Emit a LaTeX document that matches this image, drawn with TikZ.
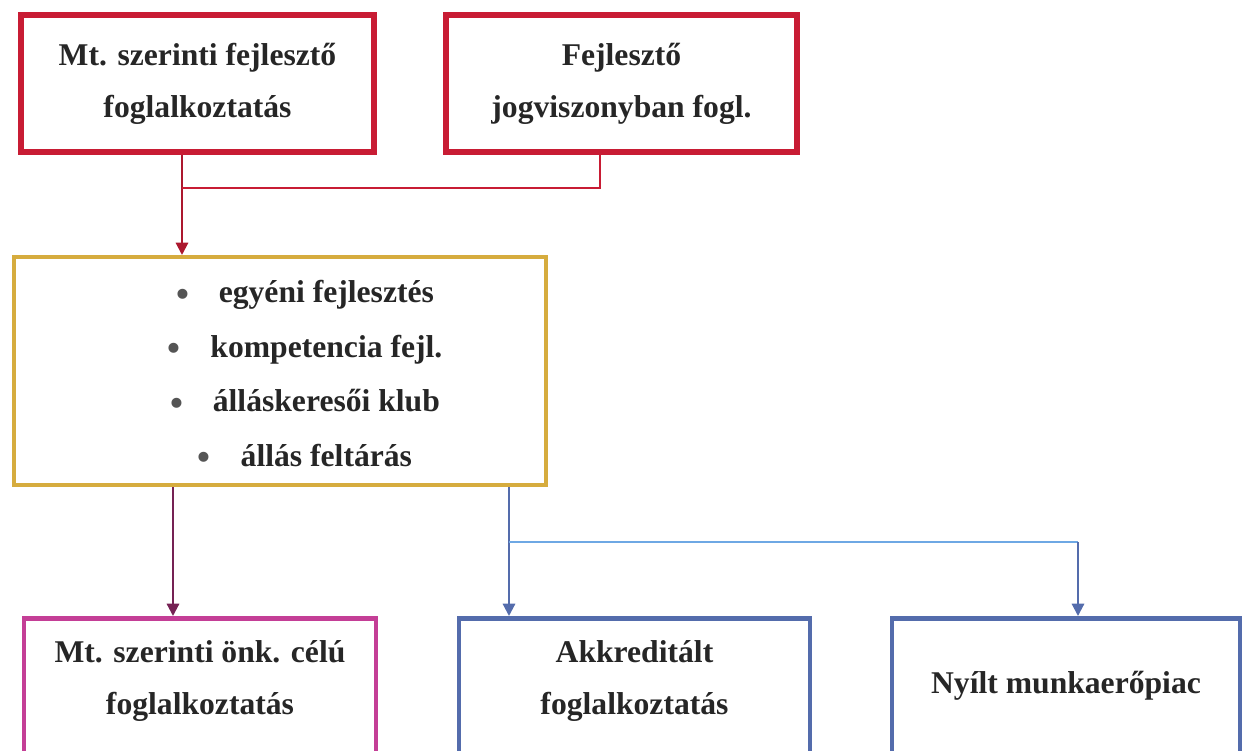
\documentclass[tikz,border=0pt]{standalone}
\usepackage{fontspec}
\setmainfont{Liberation Serif}
\usetikzlibrary{arrows.meta,positioning}
\definecolor{boxred}{RGB}{200,28,52}
\definecolor{linered}{RGB}{172,24,46}
\definecolor{boxgold}{RGB}{214,172,62}
\definecolor{boxpink}{RGB}{196,62,150}
\definecolor{linepurple}{RGB}{118,34,84}
\definecolor{boxblue}{RGB}{84,108,172}
\definecolor{lineblue}{RGB}{110,168,228}
\definecolor{txtgray}{RGB}{38,38,38}
\definecolor{bulgray}{RGB}{85,85,85}
\newcommand{\blt}{\raisebox{-2pt}{\color{bulgray}\fontsize{21}{21}\selectfont\textbullet}\hspace{17pt}}

\begin{document}
\begin{tikzpicture}[
  box/.style={draw, rectangle, line width=3.4pt, minimum height=2.74cm, text=txtgray, align=center, font=\bfseries\fontsize{18}{29.5}\selectfont},
  lowbox/.style={draw, rectangle, line width=2.8pt, minimum height=3cm, anchor=north},
  txt/.style={text=txtgray, align=center, font=\bfseries\fontsize{18}{29.5}\selectfont},
  conn/.style={line width=1.2pt},
  tip/.style={-{Triangle[length=7pt,width=7pt]}}
]
\useasboundingbox (0,0) rectangle (24.9,-15);
%top boxes
\node[box,draw=boxred,minimum width=7.06cm] (fejl) at (3.95,-1.67) {Mt. szerinti fejlesztő\\foglalkoztatás};
\node[box,draw=boxred,minimum width=7.02cm] (jogv) at (12.43,-1.67) {Fejlesztő\\jogviszonyban fogl.};
%middle box with the list
\node[draw=boxgold,line width=2.3pt,minimum width=10.64cm,minimum height=4.56cm] (lista) at (5.6,-7.42) {};
\node[txt,font=\bfseries\fontsize{18}{31}\selectfont] (pontok) at (6.1,-7.5) {\blt egyéni fejlesztés\\ \blt kompetencia fejl.\\ \blt álláskeresői klub\\ \blt állás feltárás};
%bottom boxes
\node[lowbox,draw=boxpink,minimum width=7.04cm] (onk) at (4.0,-12.32) {};
\node[lowbox,draw=boxblue,minimum width=7.02cm] (akkr) at (12.69,-12.32) {};
\node[lowbox,draw=boxblue,minimum width=6.96cm] (nyilt) at (21.32,-12.32) {};
\node[txt] (onkt) at ([yshift=-1.3cm]onk.north) {Mt. szerinti önk. célú\\foglalkoztatás};
\node[txt] (akkrt) at ([yshift=-1.3cm]akkr.north) {Akkreditált\\foglalkoztatás};
\node[txt] (nyiltt) at ([yshift=-1.4cm]nyilt.north) {Nyílt munkaerőpiac};
%connectors
\coordinate (j1) at (3.64,-3.76);
\coordinate (j2) at (12.0,-3.76);
\coordinate (p1) at (3.46,-10);
\coordinate (j3) at (10.18,-10.84);
\coordinate (j4) at (21.56,-10.84);
\draw[conn,linered,tip] (fejl.south -| j1) -- (lista.north -| j1);
\draw[conn,boxred] (jogv.south -| j2) -- (j2) -- (j1);
\draw[conn,linepurple,tip] (lista.south -| p1) -- (onk.north -| p1);
\draw[conn,boxblue,tip] (lista.south -| j3) -- (akkr.north -| j3);
\draw[conn,lineblue] (j3) -- (j4);
\draw[conn,boxblue,tip] (j4) -- (nyilt.north -| j4);
\end{tikzpicture}
\end{document}
